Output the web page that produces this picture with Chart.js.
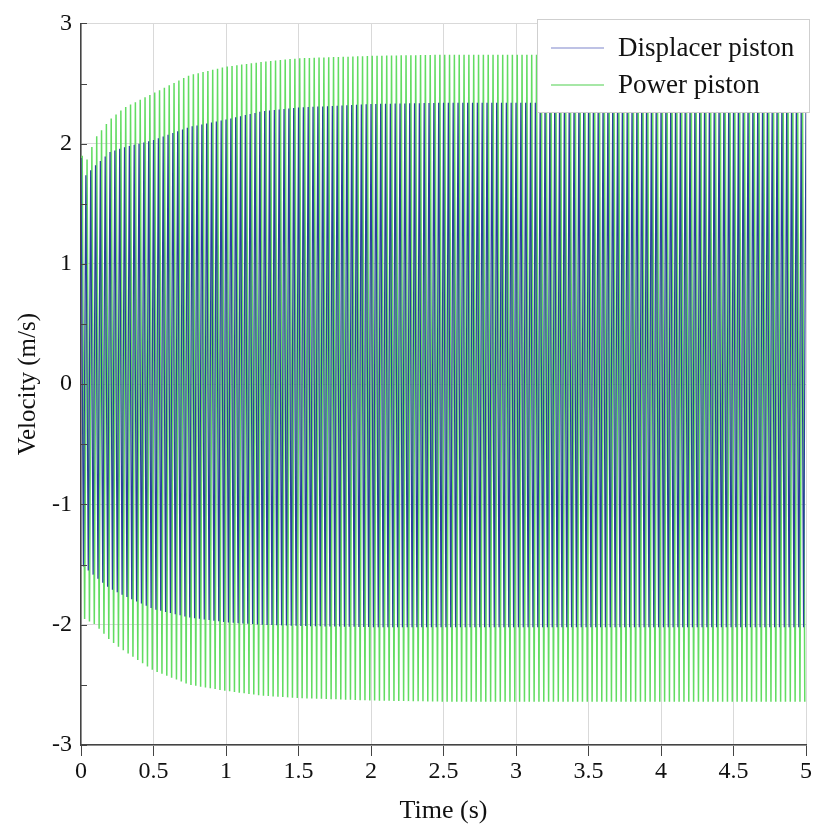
<!DOCTYPE html>
<html>
<head>
<meta charset="utf-8">
<script src="https://cdn.jsdelivr.net/npm/chart.js@4/dist/chart.umd.min.js"></script>
<style>
  body { margin: 0; background: #fff; }
  canvas { display: block; }
</style>
</head>
<body>
<canvas id="velChart" width="815" height="832"></canvas>
<script>
// Envelope of the velocity signals (time in s, velocity in m/s)
const envTime    = [0, 0.02, 0.1, 0.2, 0.3, 0.5, 0.75, 1, 1.25, 1.5, 2, 2.5, 3, 4, 5];
const dispUpper  = [1.88, 1.72, 1.82, 1.93, 1.97, 2.03, 2.14, 2.2, 2.27, 2.3, 2.33, 2.34, 2.34, 2.34, 2.34];
const dispLower  = [-1.5, -1.52, -1.6, -1.7, -1.76, -1.87, -1.94, -1.98, -2.0, -2.01, -2.02, -2.02, -2.02, -2.02, -2.02];
const powerUpper = [1.97, 1.8, 2.05, 2.2, 2.3, 2.42, 2.57, 2.64, 2.68, 2.71, 2.73, 2.74, 2.74, 2.74, 2.74];
const powerLower = [-1.92, -1.95, -2.0, -2.13, -2.22, -2.38, -2.5, -2.55, -2.59, -2.61, -2.63, -2.64, -2.64, -2.64, -2.64];
const cyclesPerSecond = 30;   // counted spikes per second
const seriesNames = ['Displacer piston', 'Power piston'];

const FONT = '"Liberation Serif", "Times New Roman", serif';

function envAt(env, t) {
    for (let i = 1; i < envTime.length; i++) {
        if (t <= envTime[i]) {
            const f = (t - envTime[i - 1]) / (envTime[i] - envTime[i - 1]);
            return env[i - 1] + f * (env[i] - env[i - 1]);
        }
    }
    return env[env.length - 1];
}

// peaks alternate between upper and lower envelope every half cycle
function buildWave(upper, lower, phase) {
    const pts = [];
    const half = 1 / (2 * cyclesPerSecond);
    for (let k = 0; ; k++) {
        const t = phase + k * half;
        if (t > 5) break;
        pts.push({ x: t, y: k % 2 === 0 ? envAt(upper, t) : envAt(lower, t) });
    }
    return pts;
}

const insideTicks = {
    id: 'insideTicks',
    afterDraw(chart) {
        const { ctx, chartArea, scales } = chart;
        ctx.save();
        ctx.strokeStyle = '#444';
        ctx.lineWidth = 1;
        for (let v = -3; v <= 3; v += 0.5) {
            const y = Math.round(scales.y.getPixelForValue(v)) + 0.5;
            ctx.beginPath();
            ctx.moveTo(chartArea.left, y);
            ctx.lineTo(chartArea.left + 6, y);
            ctx.stroke();
        }
        ctx.restore();
    }
};

const boxLegend = {
    id: 'boxLegend',
    afterDraw(chart) {
        const ctx = chart.ctx;
        const x0 = 537, y0 = 19, w = 272, h = 93;
        ctx.save();
        ctx.fillStyle = '#fff';
        ctx.fillRect(x0, y0, w, h);
        ctx.strokeStyle = '#cfcfcf';
        ctx.lineWidth = 1;
        ctx.strokeRect(x0 + 0.5, y0 + 0.5, w, h);
        ctx.font = '27px ' + FONT;
        ctx.textBaseline = 'middle';
        ctx.fillStyle = '#111';
        chart.data.datasets.forEach((ds, i) => {
            const y = 48 + i * 37;
            ctx.strokeStyle = ds.legendColor;
            ctx.lineWidth = 1.2;
            ctx.beginPath();
            ctx.moveTo(551, y);
            ctx.lineTo(604, y);
            ctx.stroke();
            ctx.fillText(ds.label, 618, y + 1);
        });
        ctx.restore();
    }
};

new Chart(document.getElementById('velChart'), {
    type: 'line',
    data: {
        datasets: [
            {
                label: seriesNames[0],
                data: buildWave(dispUpper, dispLower, 0),
                borderColor: '#2a3f9c',
                legendColor: '#7f86cc',
                borderWidth: 1.2,
                pointRadius: 0,
                tension: 0
            },
            {
                label: seriesNames[1],
                data: buildWave(powerUpper, powerLower, 1 / (4 * cyclesPerSecond)),
                borderColor: '#62dc62',
                legendColor: '#4fd04f',
                borderWidth: 1.5,
                pointRadius: 0,
                tension: 0
            }
        ]
    },
    options: {
        responsive: false,
        animation: false,
        devicePixelRatio: 1,
        layout: { padding: { top: 19, right: 9, left: 0, bottom: 0 } },
        plugins: {
            legend: { display: false },
            tooltip: { enabled: false }
        },
        scales: {
            x: {
                type: 'linear',
                min: 0, max: 5,
                afterFit: s => { s.height = 87; },
                border: { display: true, color: '#444', width: 1.5 },
                grid: { color: '#d9d9d9', tickColor: '#444', tickLength: 11, drawTicks: true },
                ticks: {
                    stepSize: 0.5,
                    color: '#111',
                    padding: 1,
                    maxRotation: 0,
                    font: { family: FONT, size: 24 },
                    callback: v => String(v)
                },
                title: {
                    display: true,
                    text: 'Time (s)',
                    color: '#111',
                    font: { family: FONT, size: 26 },
                    padding: { top: 0, bottom: 5 }
                }
            },
            y: {
                min: -3, max: 3,
                afterFit: s => { s.width = 81; },
                border: { display: true, color: '#444', width: 1.5 },
                grid: { color: '#d9d9d9', drawTicks: false },
                ticks: {
                    stepSize: 1,
                    color: '#111',
                    padding: 9,
                    font: { family: FONT, size: 24 },
                    callback: v => String(v)
                },
                title: {
                    display: true,
                    text: 'Velocity (m/s)',
                    color: '#111',
                    font: { family: FONT, size: 25 },
                    padding: { top: 13, bottom: 0 }
                }
            }
        }
    },
    plugins: [insideTicks, boxLegend]
});
</script>
</body>
</html>
